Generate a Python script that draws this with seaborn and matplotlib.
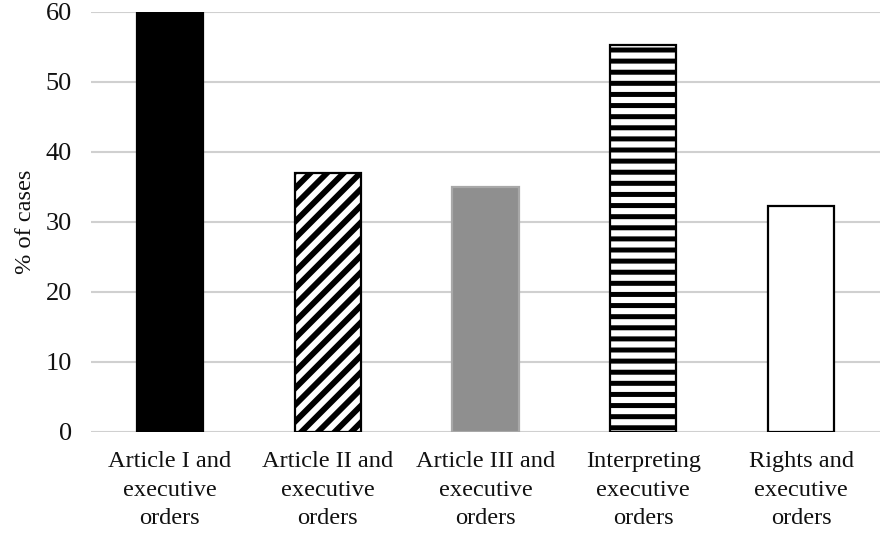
import matplotlib
matplotlib.use("Agg")
import matplotlib.pyplot as plt
import seaborn as sns

categories = [
    "Article I and\nexecutive\norders",
    "Article II and\nexecutive\norders",
    "Article III and\nexecutive\norders",
    "Interpreting\nexecutive\norders",
    "Rights and\nexecutive\norders",
]
pct_cases = [60.0, 37.0, 35.0, 55.3, 32.3]
y_ticks = [0, 10, 20, 30, 40, 50, 60]

bar_faces = ["black", "white", "#8f8f8f", "white", "white"]
bar_edges = ["black", "black", "#a8a8a8", "black", "black"]
bar_hatches = [None, "////", None, "---", None]
hatch_widths = [1.0, 2.1, 1.0, 1.8, 1.0]

sns.set_theme(style="white")
plt.rcParams["font.family"] = ["Liberation Serif", "DejaVu Serif"]
plt.rcParams["hatch.linewidth"] = 1.9

DPI = 200
fig = plt.figure(figsize=(883 / DPI, 536 / DPI), dpi=DPI)
ax = fig.add_axes([91 / 883, 1 - 432 / 536, (880 - 91) / 883, (432 - 12) / 536])

sns.barplot(x=categories, y=pct_cases, ax=ax, width=0.42, color="white",
            saturation=1, linewidth=0.8, edgecolor="black")

for patch, fc, ec, h, hw in zip(ax.patches, bar_faces, bar_edges,
                                bar_hatches, hatch_widths):
    patch.set_facecolor(fc)
    patch.set_edgecolor(ec)
    if h:
        patch.set_hatch(h)
        if hasattr(patch, "set_hatch_linewidth"):
            patch.set_hatch_linewidth(hw)
    patch.set_zorder(3)

ax.set_xlim(-0.5, len(categories) - 0.5)
ax.set_ylim(0, 60)
ax.set_yticks(y_ticks)
ax.set_yticklabels([str(t) for t in y_ticks])
ax.yaxis.grid(True, color="#d0d0d0", linewidth=0.75, zorder=0)
ax.set_axisbelow(True)
for side in ["left", "right", "top", "bottom"]:
    ax.spines[side].set_visible(False)
ax.tick_params(axis="both", length=0, colors="#111111")
ax.tick_params(axis="x", labelsize=8.8, pad=7.0)
ax.tick_params(axis="y", labelsize=9.5, pad=6.8)
for lbl in ax.get_xticklabels():
    lbl.set_linespacing(1.45)
ax.set_ylabel("% of cases", fontsize=8.8, color="#111111", labelpad=3.6)

fig.savefig("out.png", dpi=DPI, facecolor="white")
